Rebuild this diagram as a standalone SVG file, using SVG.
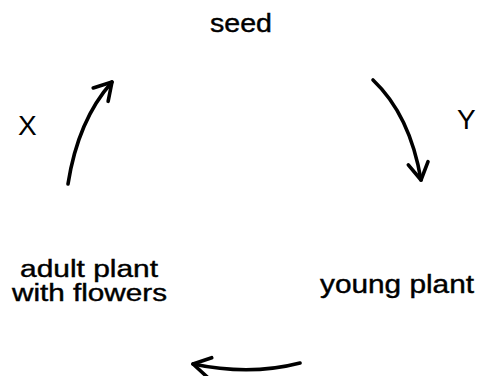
<svg xmlns="http://www.w3.org/2000/svg" width="495" height="376" viewBox="0 0 495 376">
  <style>
    text { font-family: "Liberation Sans", Arial, sans-serif; font-size: 25px; fill: #000; stroke: #000; stroke-width: 0.4; }
    .two { font-size: 23px; }
    .big { font-size: 28px; stroke-width: 0; }
    .conn { fill: none; stroke: #000; stroke-width: 3.6; stroke-linecap: round; }
  </style>
  <defs>
    <marker id="head" markerUnits="userSpaceOnUse" markerWidth="40" markerHeight="40" refX="0" refY="0" viewBox="-20 -20 40 40" orient="auto" overflow="visible">
      <path d="M-17,-10 L0,0 L-17,10" fill="none" stroke="#000" stroke-width="3.6" stroke-linecap="round" stroke-linejoin="round"/>
    </marker>
  </defs>
  <rect width="495" height="376" fill="#fff"/>
  <g id="seed"><text x="241" y="32" text-anchor="middle" textLength="62" lengthAdjust="spacingAndGlyphs">seed</text></g>
  <g id="young-plant"><text x="397" y="293" text-anchor="middle" textLength="154" lengthAdjust="spacingAndGlyphs">young plant</text></g>
  <g id="adult-plant">
    <text class="two" x="89" y="277" text-anchor="middle" textLength="138" lengthAdjust="spacingAndGlyphs">adult plant</text>
    <text class="two" x="89.5" y="301" text-anchor="middle" textLength="155" lengthAdjust="spacingAndGlyphs">with flowers</text>
  </g>
  <g id="label-x"><text class="big" x="18" y="135">X</text></g>
  <g id="label-y"><text class="big" x="457" y="129">Y</text></g>
  <g id="connectors">
    <path class="conn" d="M68,184 Q78,120 112,82" marker-end="url(#head)"/>
    <path class="conn" d="M373,80 Q410,115 421,180" marker-end="url(#head)"/>
    <path class="conn" d="M300,363 Q250,376 193,364" marker-end="url(#head)"/>
  </g>
</svg>
